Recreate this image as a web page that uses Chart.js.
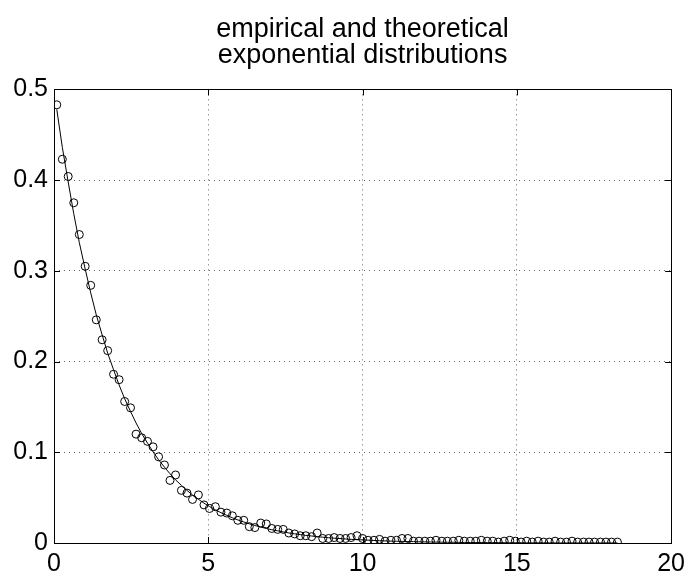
<!DOCTYPE html>
<html>
<head>
<meta charset="utf-8">
<script src="https://cdn.jsdelivr.net/npm/chart.js@4.4.1/dist/chart.umd.min.js"></script>
<style>
  html, body { margin: 0; padding: 0; background: #fff; }
  #wrap { width: 691px; height: 576px; }
</style>
</head>
<body>
<div id="wrap"><canvas id="grafica"></canvas></div>
<script>
// bin centres
const xs = [
  0.09,0.27,0.46,0.64,0.82,1.01,1.19,1.37,1.56,1.74,
  1.93,2.11,2.29,2.48,2.66,2.84,3.03,3.21,3.39,3.58,
  3.76,3.94,4.13,4.31,4.49,4.68,4.86,5.04,5.23,5.41,
  5.60,5.78,5.96,6.15,6.33,6.51,6.70,6.88,7.06,7.25,
  7.43,7.61,7.80,7.98,8.16,8.35,8.53,8.71,8.90,9.08,
  9.27,9.45,9.63,9.82,10.00,10.18,10.37,10.55,10.73,10.92,
  11.10,11.28,11.47,11.65,11.83,12.02,12.20,12.38,12.57,12.75,
  12.94,13.12,13.30,13.49,13.67,13.85,14.04,14.22,14.40,14.59,
  14.77,14.95,15.14,15.32,15.50,15.69,15.87,16.05,16.24,16.42,
  16.61,16.79,16.97,17.16,17.34,17.52,17.71,17.89,18.07,18.26
];

// empirical density (circles)
const empirica = [
  0.483,0.423,0.404,0.375,0.340,0.305,0.284,0.246,0.224,0.212,
  0.186,0.180,0.156,0.149,0.120,0.116,0.112,0.106,0.095,0.086,
  0.069,0.075,0.058,0.055,0.048,0.053,0.042,0.038,0.040,0.034,
  0.033,0.030,0.025,0.025,0.018,0.017,0.022,0.021,0.016,0.015,
  0.015,0.011,0.010,0.008,0.008,0.007,0.011,0.005,0.005,0.006,
  0.005,0.005,0.006,0.008,0.005,0.003,0.003,0.004,0.002,0.003,
  0.003,0.005,0.005,0.002,0.002,0.002,0.002,0.003,0.002,0.002,
  0.002,0.003,0.002,0.002,0.002,0.003,0.002,0.002,0.001,0.002,
  0.003,0.002,0.001,0.002,0.001,0.002,0.001,0.001,0.002,0.001,
  0.001,0.002,0.001,0.001,0.001,0.001,0.001,0.001,0.001,0.001
];

// theoretical density (solid line)
const teorica = [
  0.4780,0.4361,0.3979,0.3630,0.3312,0.3021,0.2757,0.2515,0.2294,0.2093,
  0.1910,0.1742,0.1590,0.1450,0.1323,0.1207,0.1101,0.1005,0.0917,0.0836,
  0.0763,0.0696,0.0635,0.0580,0.0529,0.0482,0.0440,0.0402,0.0366,0.0334,
  0.0305,0.0278,0.0254,0.0232,0.0211,0.0193,0.0176,0.0160,0.0146,0.0134,
  0.0122,0.0111,0.0101,0.0093,0.0084,0.0077,0.0070,0.0064,0.0058,0.0053,
  0.0049,0.0044,0.0040,0.0037,0.0034,0.0031,0.0028,0.0025,0.0023,0.0021,
  0.0019,0.0018,0.0016,0.0015,0.0013,0.0012,0.0011,0.0010,0.0009,0.0008,
  0.0008,0.0007,0.0006,0.0006,0.0005,0.0005,0.0004,0.0004,0.0004,0.0003,
  0.0003,0.0003,0.0003,0.0002,0.0002,0.0002,0.0002,0.0002,0.0001,0.0001,
  0.0001,0.0001,0.0001,0.0001,0.0001,0.0001,0.0001,0.0001,0.0001,0.0001
];

const xTicks = [0, 5, 10, 15, 20];
const yTicks = [0, 0.1, 0.2, 0.3, 0.4, 0.5];
const titulo = ['empirical and theoretical', 'exponential distributions'];

const fuente = 'Arial, "Liberation Sans", Helvetica, sans-serif';

// box around the axes + small inward tick marks (matlab style)
const marco = {
  id: 'marco',
  afterDraw(chart) {
    const {ctx, chartArea: a, scales: {x, y}} = chart;
    ctx.save();
    ctx.strokeStyle = '#000';
    ctx.lineWidth = 1;
    ctx.strokeRect(Math.round(a.left) + 0.5, Math.round(a.top) + 0.5,
      Math.round(a.right - a.left), Math.round(a.bottom - a.top));
    const len = 6;
    ctx.beginPath();
    xTicks.forEach(v => {
      const px = Math.round(x.getPixelForValue(v)) + 0.5;
      ctx.moveTo(px, a.bottom); ctx.lineTo(px, a.bottom - len);
      ctx.moveTo(px, a.top); ctx.lineTo(px, a.top + len);
    });
    yTicks.forEach(v => {
      const py = Math.round(y.getPixelForValue(v)) + 0.5;
      ctx.moveTo(a.left, py); ctx.lineTo(a.left + len, py);
      ctx.moveTo(a.right, py); ctx.lineTo(a.right - len, py);
    });
    ctx.stroke();
    ctx.restore();
  }
};

new Chart(document.querySelector('#grafica'), {
  type: 'scatter',
  data: {
    datasets: [
      {
        label: 'theoretical',
        type: 'line',
        data: xs.map((v, i) => ({x: v, y: teorica[i]})),
        borderColor: '#000',
        borderWidth: 1,
        pointRadius: 0,
        fill: false,
        tension: 0
      },
      {
        label: 'empirical',
        data: xs.map((v, i) => ({x: v, y: empirica[i]})),
        borderColor: '#000',
        backgroundColor: 'rgba(0,0,0,0)',
        borderWidth: 1,
        pointRadius: 4,
        pointHoverRadius: 4
      }
    ]
  },
  options: {
    responsive: true,
    maintainAspectRatio: false,
    animation: false,
    layout: { padding: { left: 0, right: 19, top: 0, bottom: 0 } },
    plugins: {
      legend: { display: false },
      tooltip: { enabled: false },
      title: {
        display: true,
        fullSize: false,
        text: titulo,
        color: '#000',
        font: { family: fuente, size: 27, weight: 'normal', lineHeight: 0.97 },
        padding: { top: 16, bottom: 21 }
      }
    },
    scales: {
      x: {
        type: 'linear',
        min: 0, max: 20,
        afterBuildTicks: s => { s.ticks = xTicks.map(v => ({value: v})); },
        afterFit: s => { s.height = 33; },
        ticks: { color: '#000', font: { family: fuente, size: 25 }, padding: 6, maxRotation: 0 },
        grid: { color: '#666', drawTicks: false, lineWidth: 1 },
        border: { display: false, dash: [1, 4] }
      },
      y: {
        type: 'linear',
        min: 0, max: 0.5,
        afterBuildTicks: s => { s.ticks = yTicks.map(v => ({value: v})); },
        afterFit: s => { s.width = 54; },
        ticks: { color: '#000', font: { family: fuente, size: 25 }, padding: 6,
                 callback: v => String(v) },
        grid: { color: '#666', drawTicks: false, lineWidth: 1 },
        border: { display: false, dash: [1, 4] }
      }
    }
  },
  plugins: [marco]
});
</script>
</body>
</html>
